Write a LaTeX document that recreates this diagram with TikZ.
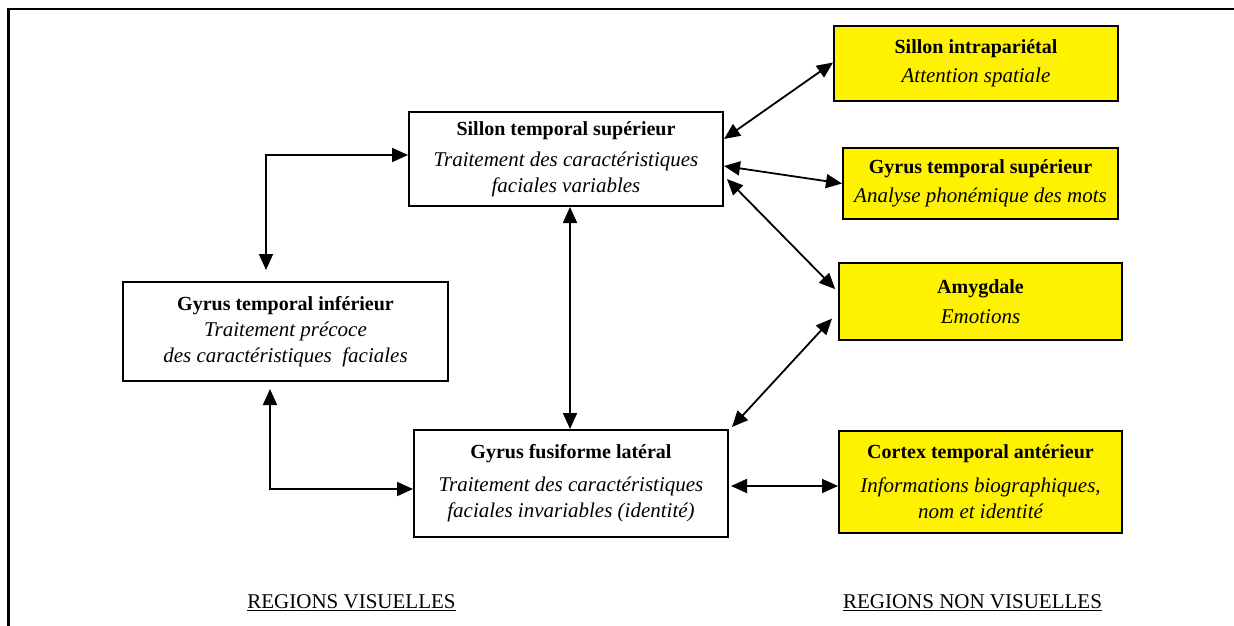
\documentclass[tikz,border=0pt]{standalone}
\usepackage{fontspec}
\setmainfont{Liberation Serif}
\usetikzlibrary{arrows.meta,calc}
\newcommand\itlline[1]{{\fontsize{21}{26}\selectfont\itshape #1}}
\begin{document}
\begin{tikzpicture}[x=1pt,y=-1pt,
 box/.style={draw=black,line width=2pt,align=center,inner sep=0pt,font=\fontsize{20}{26}\selectfont},
 ybox/.style={box,fill=yellow},
 biarrow/.style={{Triangle[length=16pt,width=14pt]}-{Triangle[length=16pt,width=14pt]},line width=1.8pt},
 lab/.style={font=\fontsize{21}{24}\selectfont}]
\useasboundingbox (0,0) rectangle (1234,626);
\draw[line width=2.2pt] (1234,9) -- (8.5,9) -- (8.5,626);

\node[box,minimum width=314pt,minimum height=94pt] (sts) at (566,159)
 {\textbf{Sillon temporal supérieur}\\[5pt]\itlline{Traitement des caractéristiques}\\\itlline{faciales variables}};
\node[box,minimum width=325pt,minimum height=99pt] (gti) at (285.5,331.5)
 {\textbf{Gyrus temporal inférieur}\\\itlline{Traitement précoce}\\\itlline{des caractéristiques\ \ faciales}};
\node[box,minimum width=314pt,minimum height=107pt] (gfl) at (571,483.5)
 {\textbf{Gyrus fusiforme latéral}\\[7pt]\itlline{Traitement des caractéristiques}\\\itlline{faciales invariables (identité)}};
\node[ybox,minimum width=284pt,minimum height=75pt] (sip) at (976,63.5)
 {\textbf{Sillon intrapariétal}\\[3pt]\itlline{Attention spatiale}};
\node[ybox,minimum width=275pt,minimum height=71pt] (gts) at (980.5,183.5)
 {\textbf{Gyrus temporal supérieur}\\[3pt]\itlline{Analyse phonémique des mots}};
\node[ybox,minimum width=283pt,minimum height=77pt] (amy) at (980.5,301.5)
 {\textbf{Amygdale}\\[4pt]\itlline{Emotions}};
\node[ybox,minimum width=283pt,minimum height=102pt] (cta) at (980.5,482)
 {\textbf{Cortex temporal antérieur}\\[8pt]\itlline{Informations biographiques,}\\\itlline{nom et identité}};

\node[lab] (vis) at (351.5,603) {\underline{REGIONS VISUELLES}};
\node[lab] (nonvis) at (972.5,603) {\underline{REGIONS NON VISUELLES}};

\draw[biarrow,shorten >=11pt] ([yshift=4pt]sts.west) -| ([xshift=-19.5pt]gti.north);
\draw[biarrow,shorten <=7pt] ([xshift=-15.5pt]gti.south) |- ([yshift=-5.5pt]gfl.west);
\draw[biarrow] ([xshift=-1pt]gfl.north |- sts.south) -- ([xshift=-1pt]gfl.north);
\draw[biarrow] ([yshift=20pt]sts.east) -- ([yshift=1pt]sip.west);
\draw[biarrow] ([yshift=-7pt]sts.east) -- (gts.west);
\draw[biarrow,shorten >=4pt] ([shift={(3pt,-20pt)}]sts.east) -- ([yshift=9.5pt]amy.west);
\draw[biarrow,shorten >=9pt] ([shift={(3pt,2pt)}]gfl.north east) -- ([yshift=-10.5pt]amy.west);
\draw[biarrow] ([shift={(2pt,-2.5pt)}]gfl.east) -- ([yshift=-2.5pt]gfl.east -| cta.west);
\end{tikzpicture}
\end{document}
